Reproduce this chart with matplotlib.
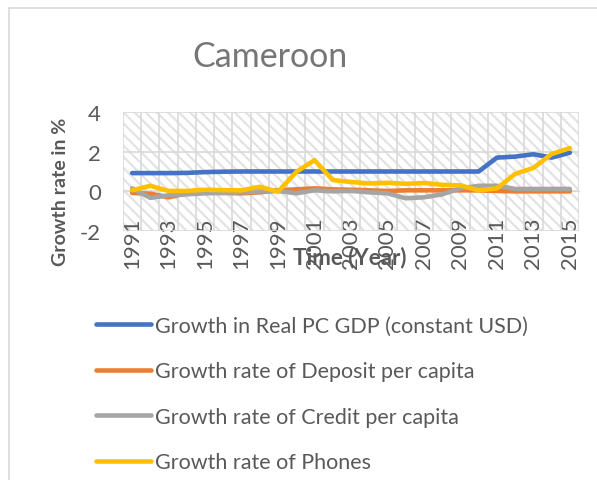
import numpy as np
import matplotlib
matplotlib.use('Agg')
import matplotlib.pyplot as plt
from matplotlib.patches import Rectangle

plt.rcParams['font.family'] = ['Lato', 'DejaVu Sans']
plt.rcParams['axes.unicode_minus'] = False
plt.rcParams['hatch.color'] = '#e3e3e3'
plt.rcParams['hatch.linewidth'] = 1.6

years = list(range(1991, 2016))
gdp = [0.92, 0.92, 0.92, 0.93, 0.97, 0.99, 1.0, 1.0, 1.0, 1.0, 1.0, 1.0, 1.0,
       1.0, 1.0, 1.0, 1.0, 1.0, 1.0, 1.0, 1.7, 1.75, 1.87, 1.7, 1.95]
deposit = [-0.08, -0.12, -0.3, -0.1, -0.05, -0.08, -0.1, -0.05, 0.05, 0.1, 0.15,
           0.1, 0.08, 0.05, 0.02, 0.05, 0.05, 0.05, 0.05, 0.05, 0.02, 0.0, 0.0,
           0.0, 0.0]
credit = [0.15, -0.33, -0.2, -0.15, -0.1, -0.08, -0.05, 0.0, 0.02, -0.1, 0.05,
          0.0, 0.02, -0.05, -0.1, -0.35, -0.3, -0.15, 0.15, 0.28, 0.28, 0.12,
          0.12, 0.12, 0.12]
phones = [0.05, 0.28, 0.02, 0.02, 0.08, 0.06, 0.05, 0.23, -0.02, 0.98, 1.57,
          0.57, 0.47, 0.4, 0.43, 0.38, 0.42, 0.33, 0.3, 0.05, 0.15, 0.88, 1.18,
          1.88, 2.18]

series = [
    ('Growth in Real PC GDP (constant USD)', gdp, '#4472c4'),
    ('Growth rate of Deposit per capita', deposit, '#ed7d31'),
    ('Growth rate of Credit per capita', credit, '#a5a5a5'),
    ('Growth rate of Phones', phones, '#ffc000'),
]

W, H = 597, 481
fig = plt.figure(figsize=(W / 100, H / 100), dpi=100, facecolor='w')

# chart area border (runs off the right and bottom edges)
fig.patches.append(Rectangle((9 / W, -0.1), 1.2, 1 - 9 / H + 0.1, transform=fig.transFigure,
                             fill=False, edgecolor='#d9d9d9', lw=1.2))

ax = fig.add_axes([123 / W, 1 - 232 / H, (579 - 123) / W, (232 - 113) / H])
ax.set_facecolor('none')
ax.add_patch(Rectangle((0, 0), 1, 1, transform=ax.transAxes, facecolor='white',
                       hatch='\\\\\\', edgecolor='#e3e3e3', lw=0, zorder=0))

x = np.arange(len(years))
for name, vals, col in series:
    ax.plot(x, vals, color=col, lw=3.3, label=name, solid_capstyle='round', zorder=3)

ax.set_xlim(-0.5, len(years) - 0.5)
ax.set_ylim(-2, 4)
ax.set_yticks([-2, 0, 2, 4])
ax.set_xticks(x[::2])
ax.set_xticklabels([str(y) for y in years[::2]])
ax.set_xticks(np.arange(-0.5, len(years)), minor=True)

ax.grid(True, axis='y', which='major', color='#d9d9d9', lw=1.2, zorder=1)
ax.grid(True, axis='x', which='minor', color='#d9d9d9', lw=1.2, zorder=1)
ax.set_axisbelow(True)

for s in ['top', 'right', 'left']:
    ax.spines[s].set_visible(False)
ax.spines['bottom'].set_position(('data', 0))
ax.spines['bottom'].set_color('#d9d9d9')
ax.spines['bottom'].set_zorder(1)

ax.tick_params(axis='both', which='both', length=0, colors='#595959', labelsize=16)
ax.tick_params(axis='x', pad=18, labelrotation=90)
ax.tick_params(axis='y', pad=16)

fig.text(270 / W, 1 - 57 / H, 'Cameroon', ha='center', va='center', fontsize=24.5, color='#767676')
fig.text(60 / W, 1 - 192 / H, 'Growth rate in %', rotation=90, ha='center', va='center',
         fontsize=14, fontweight='bold', color='#595959')
fig.text(350 / W, 1 - 258 / H, 'Time (Year)', ha='center', va='center',
         fontsize=16, fontweight='bold', color='#595959')

fig.legend(loc='upper left', bbox_to_anchor=(96 / W, 1 - 317 / H), frameon=False,
           fontsize=15.5, handlelength=2.55, handletextpad=0.2, labelspacing=1.18,
           labelcolor='#595959', borderaxespad=0, borderpad=0)

fig.savefig('out.png', dpi=100, facecolor='w')
